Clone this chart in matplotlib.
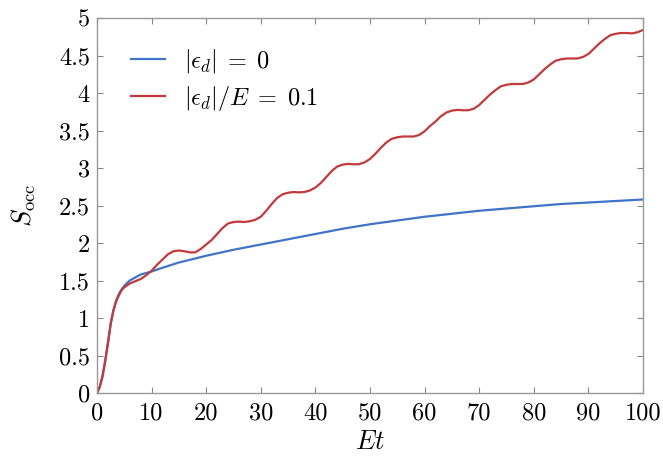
import matplotlib
matplotlib.use('Agg')
import matplotlib.pyplot as plt

plt.rcParams['font.family'] = 'serif'
plt.rcParams['font.serif'] = ['cmr10', 'DejaVu Serif']
plt.rcParams['mathtext.fontset'] = 'cm'
plt.rcParams['axes.unicode_minus'] = False

# blue curve, |eps_d| = 0
t_blue = [0, 0.5, 1, 1.5, 2, 2.5, 3, 3.5, 4, 4.5, 5, 6, 7, 8, 10, 12, 15, 20,
          25, 30, 35, 40, 45, 50, 55, 60, 65, 70, 75, 80, 85, 90, 95, 100]
s_blue = [0, 0.08, 0.22, 0.43, 0.67, 0.92, 1.10, 1.23, 1.32, 1.38, 1.43, 1.50,
          1.54, 1.58, 1.62, 1.67, 1.74, 1.83, 1.91, 1.98, 2.05, 2.12, 2.19,
          2.25, 2.30, 2.35, 2.39, 2.43, 2.46, 2.49, 2.52, 2.54, 2.56, 2.58]

# red curve, |eps_d|/E = 0.1
t_red = [0, 0.5, 1, 1.5, 2, 2.5, 3, 3.5, 4, 4.5, 5] + list(range(6, 101))
s_red = [0, 0.08, 0.22, 0.42, 0.66, 0.92, 1.10, 1.22, 1.30, 1.37, 1.41,
         1.46, 1.49, 1.52, 1.57,
         1.63, 1.71, 1.78, 1.85, 1.89, 1.90, 1.89, 1.875, 1.875, 1.92,
         1.98, 2.04, 2.12, 2.20, 2.26, 2.28, 2.285, 2.28, 2.29, 2.31,
         2.35, 2.43, 2.52, 2.60, 2.65, 2.67, 2.68, 2.675, 2.68, 2.70,
         2.74, 2.80, 2.88, 2.96, 3.02, 3.045, 3.055, 3.05, 3.05, 3.075,
         3.12, 3.19, 3.27, 3.34, 3.39, 3.41, 3.42, 3.42, 3.42, 3.44,
         3.49, 3.56, 3.62, 3.69, 3.74, 3.765, 3.775, 3.77, 3.77, 3.79,
         3.84, 3.91, 3.98, 4.04, 4.09, 4.11, 4.12, 4.12, 4.12, 4.14,
         4.18, 4.25, 4.32, 4.38, 4.43, 4.45, 4.46, 4.46, 4.46, 4.48,
         4.52, 4.59, 4.66, 4.72, 4.77, 4.79, 4.80, 4.80, 4.795, 4.81,
         4.84]

x_ticks = list(range(0, 101, 10))
y_ticks = [0, 0.5, 1, 1.5, 2, 2.5, 3, 3.5, 4, 4.5, 5]
y_tick_labels = ['0', '0.5', '1', '1.5', '2', '2.5', '3', '3.5', '4', '4.5', '5']

fig = plt.figure(figsize=(6.63, 4.58), dpi=100)
ax = fig.add_axes([0.1463, 0.1419, 0.8235, 0.8188])

ax.plot(t_blue, s_blue, color='#4174C6', lw=1.6,
        label=r'$|\epsilon_d|\;=\;0$')
ax.plot(t_red, s_red, color='#C23A3A', lw=1.6,
        label=r'$|\epsilon_d|/E\;=\;0.1$')

ax.set_xlim(0, 100)
ax.set_ylim(0, 5)
ax.set_xticks(x_ticks)
ax.set_xticklabels([str(v) for v in x_ticks])
ax.set_yticks(y_ticks)
ax.set_yticklabels(y_tick_labels)
ax.tick_params(direction='in', length=4, width=0.8, color='#888888',
               labelsize=17.5, top=True, right=True)
ax.tick_params(axis='x', pad=7)
ax.tick_params(axis='y', pad=5)
for sp in ax.spines.values():
    sp.set_color('#999999')
    sp.set_linewidth(1.0)

ax.set_xlabel(r'$Et$', fontsize=19, labelpad=4)
ax.set_ylabel(r'$S_{\rm occ}$', fontsize=19, labelpad=15)

ax.legend(loc='upper left', bbox_to_anchor=(0.045, 0.948), frameon=False,
          fontsize=17.5, handlelength=1.4, handletextpad=0.75, labelspacing=0.36,
          borderaxespad=0)

fig.savefig('out.png', dpi=100)
